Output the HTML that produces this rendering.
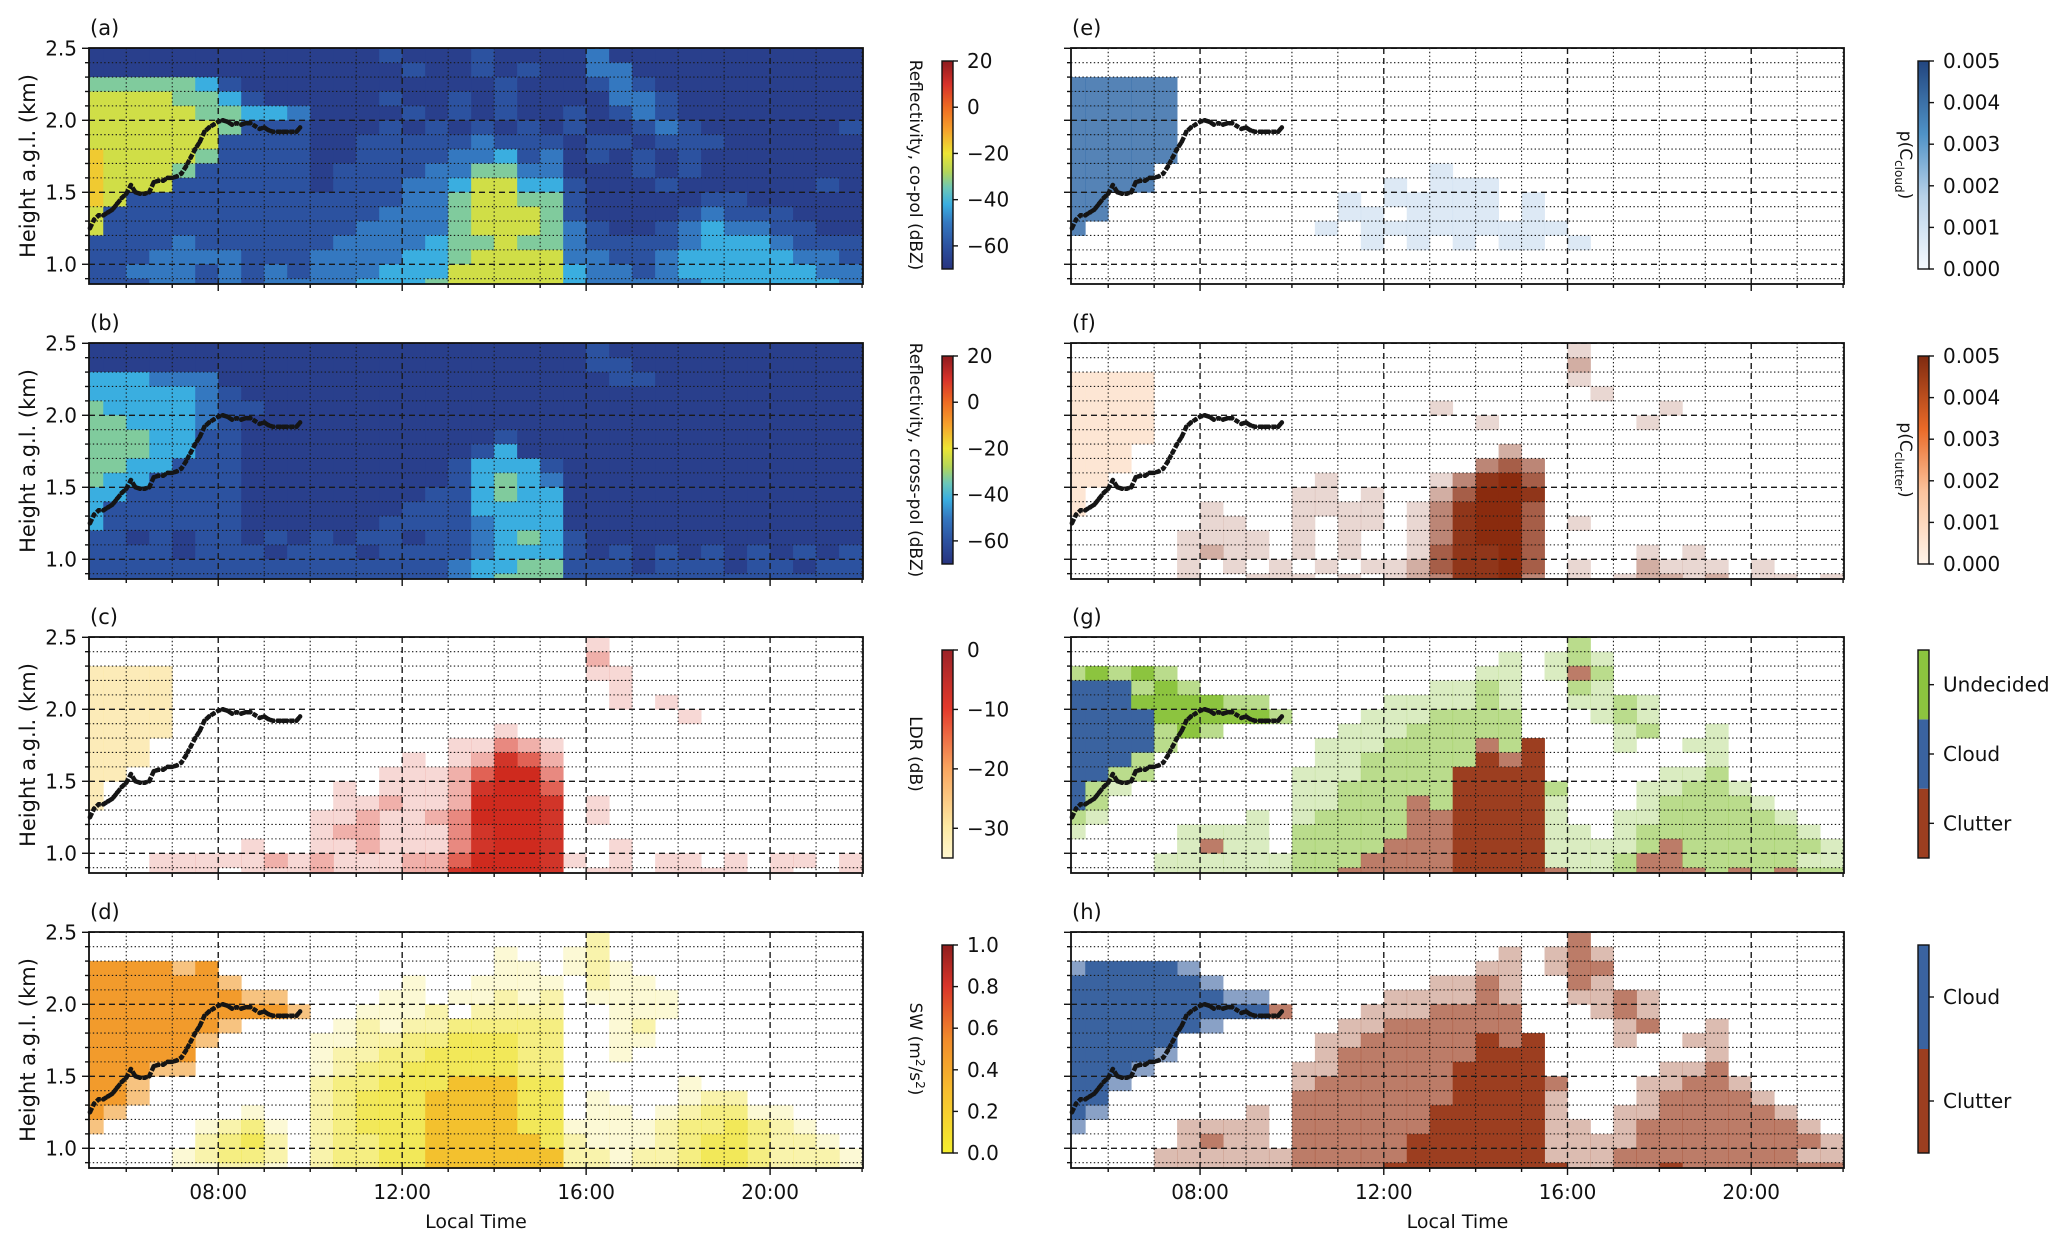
<!DOCTYPE html>
<html>
<head>
<meta charset="utf-8">
<style>
html,body{margin:0;padding:0;background:#fff;}
svg{display:block;font-family:"DejaVu Sans","Liberation Sans",sans-serif;}
</style>
</head>
<body>
<svg id="fig" width="2067" height="1244" viewBox="0 0 2067 1244" xmlns="http://www.w3.org/2000/svg">
<defs id="defs"></defs>
</svg>
<script>
// ===== data (grid cells: columns every 0.5 h from 05:00, rows every 0.1 km from 2.5 km down) =====
const timeStart = 5.0;
const timeStep = 0.5;
const heightTop = 2.5;
const heightStep = 0.1;
const dbzCodes = [-66, -60, -50, -42, -33, -24, -16, -8];

const gridA = [
"0000000000"+"0001000100"+"0020000000"+"0000",
"0000000000"+"0000100101"+"0022000000"+"0000",
"4444431000"+"0000000010"+"0012100000"+"0000",
"5555443100"+"0001001010"+"0002210000"+"0000",
"5555544332"+"0000101010"+"0101210000"+"0000",
"5555554111"+"0001010101"+"0100121000"+"0001",
"5555551111"+"0011111211"+"1011011100"+"0000",
"6555541111"+"0011112231"+"2010101000"+"0000",
"6555411111"+"0111122442"+"2000101000"+"0000",
"6555111111"+"0111223553"+"3100010000"+"0010",
"6511111111"+"1111224554"+"4100000110"+"0000",
"5111111111"+"1112224555"+"4100001211"+"1000",
"5111111111"+"1122224555"+"4210012322"+"1100",
"1111211111"+"1222234454"+"4211112333"+"2111",
"1112222111"+"2222334555"+"5221123333"+"3221",
"1122212121"+"2223335555"+"5322123333"+"3322",
"1112212122"+"2233345555"+"5322222333"+"3332"];

const gridB = [
"0000000000"+"0000000000"+"0010000000"+"0000",
"0000000000"+"0000000000"+"0011000000"+"0000",
"3332220000"+"0000000000"+"0001100000"+"0000",
"3333321000"+"0000000000"+"0000000000"+"0000",
"4333321100"+"0000000000"+"0000000000"+"0000",
"4433321000"+"0000000000"+"0000000000"+"0000",
"4443311000"+"0000000010"+"0000000000"+"0000",
"4443311000"+"0000000130"+"0000000000"+"0000",
"4433111000"+"0000001333"+"1000000000"+"0000",
"4331111000"+"0000001343"+"2000000000"+"0000",
"3311111000"+"0000011343"+"3000000000"+"0000",
"3111111000"+"0000111333"+"3000000000"+"0000",
"3111111000"+"0001111233"+"3000000000"+"0000",
"1101011010"+"1011011234"+"3100000000"+"0000",
"1111011101"+"1101111233"+"3101010101"+"0101",
"1111111111"+"1111112334"+"4111011101"+"1011",
"1111111111"+"1111112344"+"4111111111"+"1111"];

const gridC = [
".........."+".........."+"..1......."+"....",
".........."+".........."+"..2......."+"....",
"aaaa......"+".........."+"..11......"+"....",
"aaaa......"+".........."+"...1......"+"....",
"aaaa......"+".........."+"...1.1...."+"....",
"aaaa......"+".........."+"......1..."+"....",
"aaaa......"+"........1."+".........."+"....",
"aaa......."+"......1132"+"1........."+"....",
"aaa......."+"....1.1254"+"2........."+"....",
"aa........"+"...1112466"+"3........."+"....",
"a........."+".1.1112577"+"4........."+"....",
"a........."+".112112677"+"5.1......."+"....",
".........."+"1121123677"+"5.1......."+"....",
".........."+"1221113566"+"5........."+"....",
".......1.."+"1121113566"+"5..1......"+"....",
"...1111121"+"2111224666"+"51.1.11.1."+"11.1",
"...111.111"+"2111225666"+"5.11.1111."+"1..1"];

const gridD = [
".........."+".........."+"..2......."+"....",
".........."+"........1."+".12......."+"....",
"oooopo...."+"........11"+".121......"+"....",
"oooooop..."+"....1..111"+"1.211....."+"....",
"ooooooopp."+"...11.1121"+"2.1111...."+"....",
"ooooooooop"+"..1112.222"+"2..111...."+"....",
"oooooop..."+".121223333"+"3..12....."+"....",
"ooooop...."+"1122334443"+"3..11....."+"....",
"ooooo....."+"1223344443"+"3..1......"+"....",
"ooopp....."+"1233444443"+"3........."+"....",
"oop......."+"2334445554"+"4.....1..."+"....",
"oop......."+"2344455554"+"4.1...122."+"....",
"op.....1.."+"2344455554"+"4.11.12331"+"1...",
"p....1231."+"2344456664"+"4111123343"+"21..",
".....2342."+"2334456665"+"4211123443"+"221.",
"....12332."+"2334456665"+"5221223443"+"2221",
"....11221."+"2334456665"+"5221223443"+"2221"];

const gridE = [
".........."+".........."+".........."+"....",
".........."+".........."+".........."+"....",
"bbbbb....."+".........."+".........."+"....",
"bbbbb....."+".........."+".........."+"....",
"bbbbb....."+".........."+".........."+"....",
"bbbbb....."+".........."+".........."+"....",
"bbbbb....."+".........."+".........."+"....",
"bbbbb....."+".........."+".........."+"....",
"bbbb......"+"......1..."+".........."+"....",
"bbbb......"+"....1.111."+".........."+"....",
"bb........"+"..1.11111."+"1........."+"....",
"bb........"+"..11.1111."+"1........."+"....",
"b........."+".1.1111111"+"11........"+"....",
".........."+"...1.1.1.1"+"1.1......."+"....",
".........."+".........."+".........."+"....",
".........."+".........."+".........."+"....",
".........."+".........."+".........."+"...."];

const gridF = [
".........."+".........."+"..1......."+"....",
".........."+".........."+"..2......."+"....",
"aaaa......"+".........."+"..1......."+"....",
"aaaa......"+".........."+"...1......"+"....",
"aaaa......"+"......1..."+"......1..."+"....",
"aaaa......"+"........1."+".....1...."+"....",
"aaaa......"+".........."+".........."+"....",
"aaa......."+".........2"+".........."+"....",
"aaa......."+"........34"+"3........."+"....",
"aa........"+".1....1356"+"4........."+"....",
"a........."+"11.1..2466"+"5........."+"....",
"a.....1..."+"1111.13566"+"4........."+"....",
"......11.."+"1.11.13566"+"4.1......."+"....",
".....1111."+"1.1..13566"+"4........."+"....",
".....1211."+"1.1..14556"+"4....1.1.."+"....",
".....1.1.1"+".1.1124556"+"4.1..2111."+"1...",
".....1..11"+"1.1.123556"+"3.1.12212."+"11.1"];

const gridG = [
".........."+".........."+"..g......."+"....",
".........."+".........h"+".hgh......"+"....",
"gGgGg....."+"........hh"+".hrg......"+"....",
"BBBgGg...."+"......hhgh"+"..gh......"+"....",
"BBBGGGGgg."+"....hhhhgh"+"..hhgh...."+"....",
"BBBBGGGGGg"+"...hhhgggg"+"...hgh...."+"....",
"BBBBgGg..."+"..hhhggggg"+"....hg..h."+"....",
"BBBBg....."+".hhhggggrg"+"R...h..hh."+"....",
"BBBg......"+".hhgggggRr"+"R.......h."+"....",
"BBgg......"+"hhhggggRRR"+"R.....hhg."+"....",
"Bgh......."+"hhgggggRRR"+"Rg...hhggh"+"....",
"Bg........"+"hhgggrgRRR"+"Rh...hgggg"+"h...",
"gh......h."+"hggggrrRRR"+"Rh..hhgggg"+"gh..",
"h....hhhh."+"gggggrrRRR"+"Rhh.hggggg"+"ggh.",
".....hrhh."+"ggggrrrRRR"+"Rhhhhgrggg"+"gggh",
"....hhhhhh"+"gggrrrrRRR"+"Rhhhgrrggg"+"gghh",
"....hhhhhh"+"ggrrrrrRRR"+"Rrhhgrrrgr"+"grgg"];

const gridH = [
".........."+".........."+"..r......."+"....",
".........."+".........s"+".srs......"+"....",
"bBBBBb...."+"........ss"+".srr......"+"....",
"BBBBBBb..."+"......ssrs"+"..rs......"+"....",
"BBBBBBBbb."+"....ssssrs"+"..ssrs...."+"....",
"BBBBBBBBBr"+"...sssrrrr"+"...srs...."+"....",
"BBBBBBb..."+"..ssrrrrrr"+"....sr..s."+"....",
"BBBBB....."+".ssrrrrrRr"+"R...s..ss."+"....",
"BBBBb....."+".srrrrrrRR"+"R.......s."+"....",
"BBBb......"+"ssrrrrrRRR"+"R.....ssr."+"....",
"BBb......."+"srrrrrrRRR"+"Rr...ssrrs"+"....",
"BB........"+"rrrrrrrRRR"+"Rs...srrrr"+"s...",
"Bb......s."+"rrrrrrRRRR"+"Rs..ssrrrr"+"rs..",
"b....ssss."+"rrrrrrRRRR"+"Rss.srrrrr"+"rrs.",
".....srss."+"rrrrrRRRRR"+"Rssssrrrrr"+"rrrs",
"....ssssss"+"rrrrrRRRRR"+"Rsssrrrrrr"+"rrss",
"....ssssss"+"rrrrRRRRRR"+"RRssrrRrrr"+"rrrr"];

// boundary-layer height (black dots)
const blTimes = [5.21,5.3,5.4,5.5,5.6,5.7,5.8,5.9,6.0,6.1,6.2,6.3,6.4,6.5,6.6,6.7,6.8,6.9,7.0,7.1,7.2,7.3,7.4,7.5,7.6,7.7,7.8,7.9,8.0,8.1,8.2,8.3,8.4,8.5,8.6,8.7,8.8,8.9,9.0,9.1,9.2,9.3,9.4,9.5,9.6,9.7,9.78];
const blHeights = [1.25,1.31,1.34,1.34,1.36,1.38,1.42,1.46,1.49,1.55,1.50,1.49,1.49,1.50,1.57,1.58,1.58,1.60,1.60,1.61,1.63,1.68,1.74,1.80,1.85,1.92,1.95,1.97,1.99,2.00,1.99,1.97,1.98,1.97,1.98,1.98,1.96,1.94,1.95,1.93,1.92,1.92,1.92,1.92,1.92,1.92,1.95];

const xTickLabels = ["08:00","12:00","16:00","20:00"];
const xTickHours = [8,12,16,20];
const yTickLabels = ["1.0","1.5","2.0","2.5"];
const yTickValues = [1.0,1.5,2.0,2.5];
const cbTicksRefl = [20,0,-20,-40,-60];
const cbTicksLdr = [0,-10,-20,-30];
const cbTicksSw = [1.0,0.8,0.6,0.4,0.2,0.0];
const cbTicksP = [0.005,0.004,0.003,0.002,0.001,0.000];
const classesG = ["Clutter","Cloud","Undecided"];
const classesH = ["Clutter","Cloud"];

// ===== layout & style =====
const T0 = 5.19, T1 = 22.02, H0 = 0.863, H1 = 2.502, PH = 236;
const rowTops = [48, 343, 637, 932];
const colX = [89, 1071], colW = [774, 773];
const svg = document.getElementById('fig');
const defs = document.getElementById('defs');
const NS = 'http://www.w3.org/2000/svg';
function el(tag, attrs, parent){const e=document.createElementNS(NS,tag);for(const k in attrs)e.setAttribute(k,attrs[k]);(parent||svg).appendChild(e);return e;}

const dbzStops = [[-70,'#27337f'],[-60,'#2c52a0'],[-50,'#3478c0'],[-42,'#3aaee0'],[-35,'#6cc7b8'],[-28,'#b3d65a'],[-20,'#ece534'],[-10,'#f6a22c'],[0,'#ee6b22'],[10,'#d6312a'],[20,'#8e1b1e']];
function hex2rgb(h){return [parseInt(h.substr(1,2),16),parseInt(h.substr(3,2),16),parseInt(h.substr(5,2),16)];}
function dbzColor(v){for(let i=0;i<dbzStops.length-1;i++){const a=dbzStops[i],b=dbzStops[i+1];if(v>=a[0]&&v<=b[0]){const f=(v-a[0])/(b[0]-a[0]);const ca=hex2rgb(a[1]),cb=hex2rgb(b[1]);return 'rgb('+ca.map((c,k)=>Math.round(c+(cb[k]-c)*f)).join(',')+')';}}return dbzStops[0][1];}

const palettes = {
  dbz: ch => [dbzColor(dbzCodes[+ch]),1],
  ldr: ch => ch==='a'?['#fbe6a6',0.8]:[(+ch)>=5?'#cf2a1e':'#d7301f',Math.min(1,(+ch)*0.19)],
  sw: ch => ch==='o'?['#f29b2c',1]:ch==='p'?['#f29b2c',0.6]:[(+ch)>=5?'#f3c12e':'#efe22f',Math.min(1,(+ch)*0.2)],
  pcl: ch => ch==='b'?['#2f68a6',0.82]:['#c6dbef',0.6],
  pcu: ch => ch==='a'?['#fde3cf',0.9]:['#8a2b0e',Math.min(1,(+ch)*0.19)],
  cls: ch => ({B:['#3a63a0',1],b:['#3a63a0',0.6],G:['#8cc43f',1],g:['#8cc43f',0.6],h:['#8cc43f',0.32],R:['#9c3e20',1],r:['#9c3e20',0.68],s:['#9c3e20',0.35]})[ch]
};

const panels = [
 {id:'a',grid:gridA,pal:'dbz',col:0,row:0},
 {id:'b',grid:gridB,pal:'dbz',col:0,row:1},
 {id:'c',grid:gridC,pal:'ldr',col:0,row:2},
 {id:'d',grid:gridD,pal:'sw',col:0,row:3},
 {id:'e',grid:gridE,pal:'pcl',col:1,row:0},
 {id:'f',grid:gridF,pal:'pcu',col:1,row:1},
 {id:'g',grid:gridG,pal:'cls',col:1,row:2},
 {id:'h',grid:gridH,pal:'cls',col:1,row:3}
];

panels.forEach(p=>{
  const x0=colX[p.col], w=colW[p.col], y0=rowTops[p.row];
  const X=t=>x0+(t-T0)/(T1-T0)*w;
  const Y=h=>y0+(H1-h)/(H1-H0)*PH;
  const g=el('g',{});
  
  
  const cp=el('clipPath',{id:'clip-'+p.id},defs);
  el('rect',{x:x0,y:y0,width:w,height:PH},cp);
  const cells=el('g',{'clip-path':'url(#clip-'+p.id+')'},g);
  
  
  p.grid.forEach((rowStr,j)=>{
    const hTopCell = j===0?2.7:heightTop-j*heightStep;
    const hBot = heightTop-(j+1)*heightStep - (j===p.grid.length-1?0.2:0);
    for(let i=0;i<rowStr.length;i++){
      const ch=rowStr[i]; if(ch==='.')continue;
      const c=palettes[p.pal](ch); if(!c)continue;
      const t0=timeStart+i*timeStep, t1=t0+timeStep;
      const r=el('rect',{x:X(t0).toFixed(2),y:Y(hTopCell).toFixed(2),width:(X(t1)-X(t0)+0.4).toFixed(2),height:(Y(hBot)-Y(hTopCell)+0.4).toFixed(2),fill:c[0],'fill-opacity':c[1]},cells);
      
      
    }
  });
  // grid lines
  const gl=el('g',{'clip-path':'url(#clip-'+p.id+')',stroke:'#1a1a1a',fill:'none'},g);
  
  
  for(let k=9;k<=25;k++){const h=k/10;const major=(k%5===0);
    el('line',{x1:x0,x2:x0+w,y1:Y(h),y2:Y(h),'stroke-width':major?1.4:1.1,'stroke-dasharray':major?'6 4':'1.4 2.4'},gl);}
  for(let hr=6;hr<=22;hr++){const major=(hr%4===0);
    el('line',{x1:X(hr),x2:X(hr),y1:y0,y2:y0+PH,'stroke-width':major?1.4:1.1,'stroke-dasharray':major?'6 4':'1.4 2.4'},gl);}
  // BL line
  const pts=blTimes.map((t,k)=>X(t).toFixed(1)+','+Y(blHeights[k]).toFixed(1)).join(' ');
  const bl=el('polyline',{points:pts,fill:'none',stroke:'#151515','stroke-width':4.5,'stroke-linejoin':'round','stroke-dasharray':'5 1.5'},g);
  
  
  blTimes.forEach((t,k)=>{const d=el('circle',{cx:X(t),cy:Y(blHeights[k]),r:2.3,fill:'#151515'},g);
    
    });
  // frame
  const fr=el('rect',{x:x0,y:y0,width:w,height:PH,fill:'none',stroke:'#111','stroke-width':1.8},g);
  
  
  // y ticks
  for(let k=9;k<=25;k++){const h=k/10;const major=(k%5===0);
    el('line',{x1:x0,x2:x0-(major?7:4),y1:Y(h),y2:Y(h),stroke:'#111','stroke-width':1.4},g);}
  // x ticks
  for(let hr=6;hr<=22;hr++){const major=(hr%4===0);
    el('line',{x1:X(hr),x2:X(hr),y1:y0+PH,y2:y0+PH+(major?7:4),stroke:'#111','stroke-width':1.4},g);}
  if(p.col===0){
    yTickValues.forEach((v,k)=>{const t=el('text',{x:x0-12,y:Y(v)+7,'text-anchor':'end','font-size':20,fill:'#111'},g);t.textContent=yTickLabels[k];
      
      });
    const yt=el('text',{transform:'translate(35,'+(y0+PH/2)+') rotate(-90)','text-anchor':'middle','font-size':21,fill:'#111'},g);
    yt.textContent='Height a.g.l. (km)';
    
    
  }
  if(p.row===3){
    xTickHours.forEach((hr,k)=>{const t=el('text',{x:X(hr),y:y0+PH+31,'text-anchor':'middle','font-size':20,fill:'#111'},g);t.textContent=xTickLabels[k];
      
      });
    const xt=el('text',{x:x0+w/2,y:1228,'text-anchor':'middle','font-size':19,fill:'#111'},g);
    xt.textContent='Local Time';
    
    
  }
  const pl=el('text',{x:x0+1,y:y0-13,'font-size':21,fill:'#111'},g);
  pl.textContent='('+p.id+')';
  
  
});

// ===== colorbars =====
function gradient(id, stops){const lg=el('linearGradient',{id:id,x1:0,y1:1,x2:0,y2:0},defs);stops.forEach(s=>el('stop',{offset:s[0],'stop-color':s[1]},lg));}
gradient('gRefl', dbzStops.map(s=>[(s[0]+70)/90,s[1]]));
gradient('gLdr', [[0,'#fff7cf'],[0.15,'#fde9a3'],[0.43,'#f9a55f'],[0.72,'#e3392b'],[1,'#9c2228']]);
gradient('gSw', [[0,'#f4ee2e'],[0.3,'#f7bd2e'],[0.55,'#f18a2b'],[0.8,'#d9352a'],[1,'#8f1d1d']]);
gradient('gPcl', [[0,'#f5f9fd'],[0.35,'#b7d1e8'],[0.65,'#4f92c6'],[1,'#22457f']]);
gradient('gPcu', [[0,'#fff4ea'],[0.35,'#fcc39c'],[0.65,'#ea6a28'],[1,'#7e2a10']]);

const cbX=[942,1918], cbW=11;
function colorbar(col,row,fill,ticks,vmin,vmax,label,fmt){
  const x=cbX[col], top=rowTops[row]+13, bot=rowTops[row]+221;
  const g=el('g',{});
  
  
  el('rect',{x:x,y:top,width:cbW,height:bot-top,fill:'url(#'+fill+')',stroke:'#111','stroke-width':1.4},g);
  ticks.forEach(v=>{const y=bot-(v-vmin)/(vmax-vmin)*(bot-top);
    el('line',{x1:x+cbW,x2:x+cbW+5,y1:y,y2:y,stroke:'#111','stroke-width':1.4},g);
    const t=el('text',{x:x+cbW+14,y:y+7,'font-size':20,fill:'#111'},g);t.textContent=fmt(v);
    
    });
  const lx=col===0?910:1900;
  const lt=el('text',{transform:'translate('+lx+','+((top+bot)/2)+') rotate(90)','text-anchor':'middle','font-size':17,fill:'#111'},g);
  lt.innerHTML=label;
  
  
}
const fmtInt=v=>(v<0?'\u2212':'')+Math.abs(v);
colorbar(0,0,'gRefl',cbTicksRefl,-70,20,'Reflectivity, co-pol (dBZ)',fmtInt);
colorbar(0,1,'gRefl',cbTicksRefl,-70,20,'Reflectivity, cross-pol (dBZ)',fmtInt);
colorbar(0,2,'gLdr',cbTicksLdr,-35,0,'LDR (dB)',fmtInt);
colorbar(0,3,'gSw',cbTicksSw,0,1,'SW (m<tspan dy="-6" font-size="12">2</tspan><tspan dy="6">/s</tspan><tspan dy="-6" font-size="12">2</tspan><tspan dy="6">)</tspan>',v=>v.toFixed(1));
colorbar(1,0,'gPcl',cbTicksP,0,0.005,'p(C<tspan dy="5" font-size="12">cloud</tspan><tspan dy="-5">)</tspan>',v=>v.toFixed(3));
colorbar(1,1,'gPcu',cbTicksP,0,0.005,'p(C<tspan dy="5" font-size="12">clutter</tspan><tspan dy="-5">)</tspan>',v=>v.toFixed(3));

const classColors={Clutter:'#9c3e20',Cloud:'#3a63a0',Undecided:'#8cc43f'};
function classBar(row,classes){
  const x=cbX[1], top=rowTops[row]+13, bot=rowTops[row]+221, n=classes.length, seg=(bot-top)/n;
  const g=el('g',{});
  
  
  classes.forEach((c,k)=>{const y1=bot-(k+1)*seg;
    const r=el('rect',{x:x,y:y1,width:cbW,height:seg,fill:classColors[c]},g);
    
    
    const yc=y1+seg/2;
    el('line',{x1:x+cbW,x2:x+cbW+5,y1:yc,y2:yc,stroke:'#111','stroke-width':1.4},g);
    const t=el('text',{x:x+cbW+14,y:yc+7,'font-size':20,fill:'#111'},g);t.textContent=c;
    
    });
  el('rect',{x:x,y:top,width:cbW,height:bot-top,fill:'none',stroke:'#111','stroke-width':1.4},g);
}
classBar(2,classesG);
classBar(3,classesH);
</script>
</body>
</html>
